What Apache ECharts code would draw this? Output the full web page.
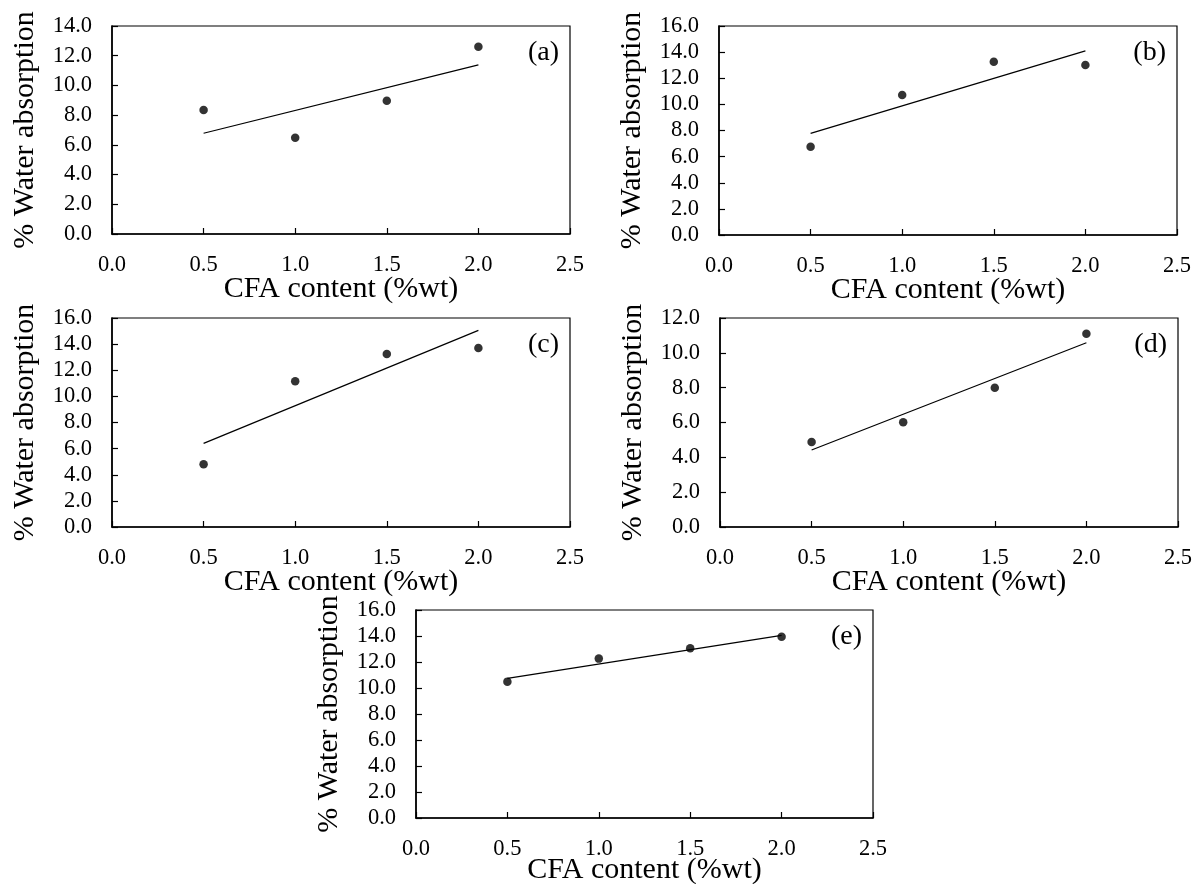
<!DOCTYPE html>
<html>
<head>
<meta charset="utf-8">
<script src="https://cdn.jsdelivr.net/npm/echarts@6/dist/echarts.min.js"></script>
<style>
html,body{margin:0;padding:0;background:#fff;}
#chart{width:1194px;height:884px;}
</style>
</head>
<body>
<div id="chart"></div>
<script>
// ---- data ----
const cfaContent = [0.5, 1.0, 1.5, 2.0];
const panelLabels = ['(a)', '(b)', '(c)', '(d)', '(e)'];
const waterA = [8.35, 6.48, 8.97, 12.61];
const waterB = [6.76, 10.72, 13.27, 13.02];
const waterC = [4.80, 11.16, 13.24, 13.70];
const waterD = [4.88, 6.01, 7.99, 11.10];
const waterE = [10.49, 12.26, 13.05, 13.95];
// trend line end values (read at x = 0.5 and x = 2.0)
const trendX = [0.5, 2.0];
const trendA = [6.78, 11.38];
const trendB = [7.78, 14.09];
const trendC = [6.40, 15.05];
const trendD = [4.42, 10.58];
const trendE = [10.74, 14.05];
const yMax = [14, 16, 16, 12, 16];
const xAxisName = 'CFA content (%wt)';
const yAxisName = '% Water absorption';

const seriesVals = [waterA, waterB, waterC, waterD, waterE];
const trendVals = [trendA, trendB, trendC, trendD, trendE];

// ---- layout ----
const grids = [
  {left: 112, top: 26, width: 458, height: 208},
  {left: 719, top: 26, width: 458, height: 209},
  {left: 112, top: 318, width: 458, height: 209},
  {left: 720, top: 318, width: 458, height: 209},
  {left: 416, top: 610, width: 457, height: 208}
];
const xNameGaps = [40, 40, 40, 40, 37];
const FONT = '"Liberation Serif", "Times New Roman", serif';

const option = {
  backgroundColor: '#fff',
  animation: false,
  textStyle: {fontFamily: FONT, color: '#000'},
  grid: grids.map(g => Object.assign({show: true, borderColor: '#000', borderWidth: 1.2, backgroundColor: 'transparent', containLabel: false, outerBoundsMode: 'none'}, g)),
  xAxis: grids.map((g, i) => ({
    gridIndex: i, type: 'value', min: 0, max: 2.5, interval: 0.5,
    name: xAxisName, nameLocation: 'middle', nameGap: xNameGaps[i], nameMoveOverlap: false,
    nameTextStyle: {fontFamily: FONT, fontSize: 30, color: '#000'},
    axisLine: {show: true, onZero: false, lineStyle: {color: '#000', width: 1.6}},
    axisTick: {show: true, inside: true, length: 6, lineStyle: {color: '#000', width: 1.2}},
    axisLabel: {fontFamily: FONT, fontSize: 22.5, color: '#000', margin: 20, formatter: v => v.toFixed(1)},
    splitLine: {show: false}
  })),
  yAxis: grids.map((g, i) => ({
    gridIndex: i, type: 'value', min: 0, max: yMax[i], interval: 2,
    name: yAxisName, nameLocation: 'middle', nameGap: 72, nameMoveOverlap: false,
    nameTextStyle: {fontFamily: FONT, fontSize: 30, color: '#000'},
    axisLine: {show: true, onZero: false, lineStyle: {color: '#000', width: 1.6}},
    axisTick: {show: true, inside: true, length: 6, lineStyle: {color: '#000', width: 1.2}},
    axisLabel: {fontFamily: FONT, fontSize: 22.5, color: '#000', margin: 20, formatter: v => v.toFixed(1)},
    splitLine: {show: false}
  })),
  series: [],
  graphic: []
};

seriesVals.forEach((vals, i) => {
  option.series.push({
    type: 'line', xAxisIndex: i, yAxisIndex: i,
    data: trendX.map((x, k) => [x, trendVals[i][k]]),
    showSymbol: false, symbol: 'none',
    lineStyle: {color: '#000', width: 1.2}, z: 2
  });
  option.series.push({
    type: 'scatter', xAxisIndex: i, yAxisIndex: i,
    data: cfaContent.map((x, k) => [x, vals[k]]),
    symbol: 'circle', symbolSize: 8.5,
    itemStyle: {color: '#000'}, z: 3
  });
  const g = grids[i];
  option.graphic.push({
    type: 'text',
    right: 1194 - (g.left + g.width) + 11,
    top: g.top + 13,
    style: {text: panelLabels[i], font: '28px ' + FONT, fill: '#000'}
  });
});

const chart = echarts.init(document.getElementById('chart'), null, {renderer: 'canvas'});
chart.setOption(option);
</script>
</body>
</html>
